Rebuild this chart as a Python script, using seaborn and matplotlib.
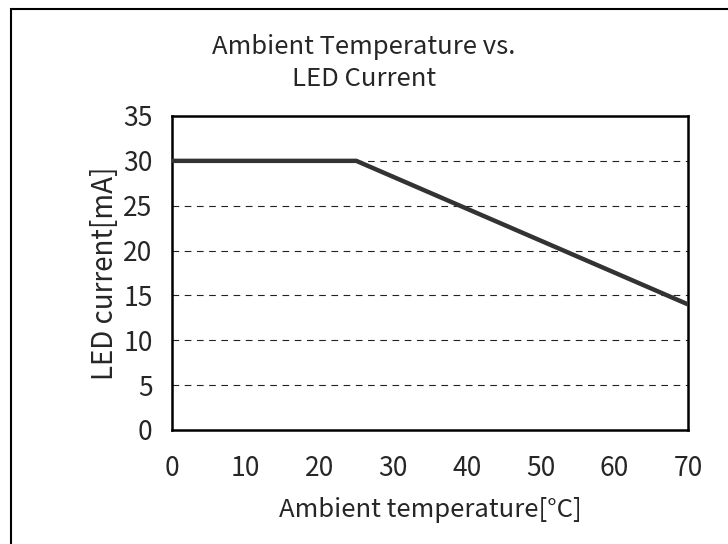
import pandas as pd
import seaborn as sns
import matplotlib.pyplot as plt
from matplotlib.patches import Rectangle

# chart data
temperature = [0, 25, 70]
led_current = [30, 30, 14]
x_ticks = [0, 10, 20, 30, 40, 50, 60, 70]
y_ticks = [0, 5, 10, 15, 20, 25, 30, 35]

df = pd.DataFrame({"temp": temperature, "current": led_current})

sns.set_style("white")
plt.rcParams["font.family"] = ["Noto Sans CJK JP", "DejaVu Sans"]

fig = plt.figure(figsize=(7.28, 5.44), dpi=100)
ax = fig.add_axes([172 / 728, 1 - 430 / 544, (688 - 172) / 728, (430 - 116) / 544])

# horizontal dashed grid
for y in y_ticks[1:-1]:
    ax.axhline(y, color="#222222", lw=0.8, ls=(0, (6, 5)), zorder=1)

sns.lineplot(data=df, x="temp", y="current", ax=ax, color="#333333", lw=3.2, zorder=3)

ax.set_xlim(0, 70)
ax.set_ylim(0, 35)
ax.set_xticks(x_ticks)
ax.set_yticks(y_ticks)
ax.tick_params(axis="x", direction="in", length=7, width=1, pad=18, labelsize=19)
ax.tick_params(axis="y", length=0, pad=14, labelsize=19)
for s in ax.spines.values():
    s.set_visible(True)
    s.set_color("black")
    s.set_linewidth(1.8)

ax.set_xlabel("Ambient temperature[°C]", fontsize=18.5, labelpad=11)
ax.set_ylabel("LED current[mA]", fontsize=20, labelpad=2)

fig.text(0.5, 1 - 63 / 544, "Ambient Temperature vs.\nLED Current", ha="center",
         va="center", fontsize=18.5, linespacing=1.3)

# outer frame
fig.patches.append(Rectangle((11 / 728, -0.1), 1.2, 1 - 9 / 544 + 0.1,
                             transform=fig.transFigure, fill=False,
                             edgecolor="black", lw=1.5))

fig.savefig("out.png", dpi=100)
